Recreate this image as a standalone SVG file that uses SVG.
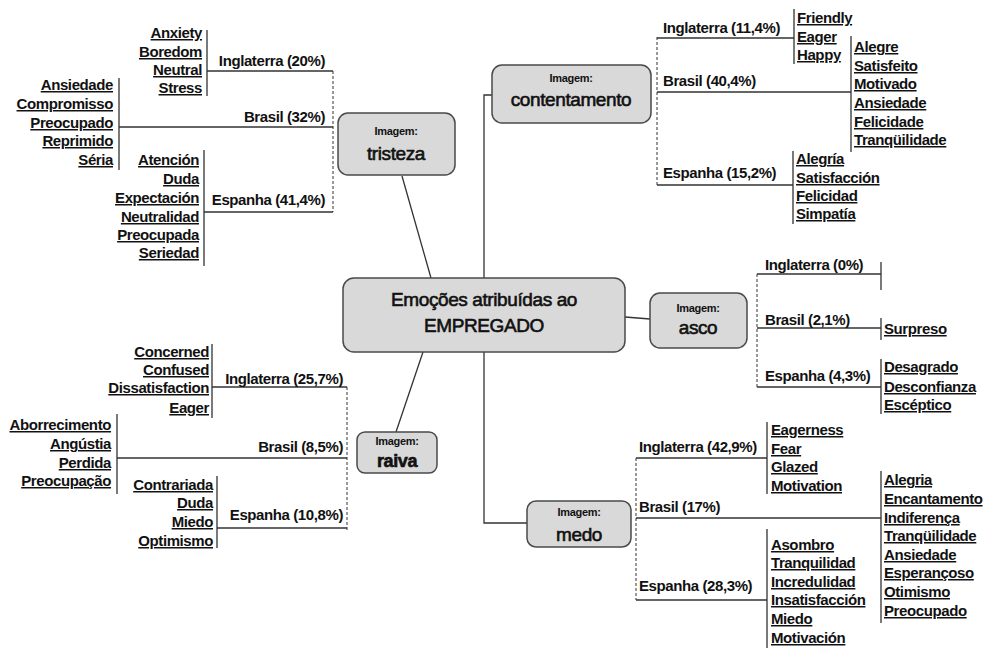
<svg xmlns="http://www.w3.org/2000/svg" width="992" height="649" viewBox="0 0 992 649">
<style>
text{font-family:"Liberation Sans",Arial,sans-serif;fill:#111}
.it{font-size:15px;font-weight:bold;letter-spacing:-0.4px;text-decoration:underline}
.lb{font-size:15px;font-weight:bold;letter-spacing:-0.4px}
.r{text-anchor:end}
.m{text-anchor:middle}
.ln{stroke:#333;stroke-width:1.3;fill:none}
.ds{stroke:#333;stroke-width:1;fill:none;stroke-dasharray:3 2}
.nd rect{fill:#d9d9d9;stroke:#4a4a4a;stroke-width:1.5}
.im{font-size:11px;font-weight:bold;text-anchor:middle;letter-spacing:-0.3px}
.nm{font-size:19px;text-anchor:middle;letter-spacing:-0.4px;stroke:#111;stroke-width:0.6}
</style>
<rect width="992" height="649" fill="#fff"/>
<g id="connectors">
<path class="ln" d="M484,278 V95 H492"/>
<path class="ln" d="M484,352 V523 H527"/>
<path class="ln" d="M431,278 L402,176"/>
<path class="ln" d="M423,352 L396,432"/>
<path class="ln" d="M625,317 L650,319"/>
<path class="ds" d="M333,71 V212"/>
<path class="ln" d="M207,71 H333 M119,127 H333 M204,212 H333"/>
<path class="ln" d="M207,30 V96 M119,78 V170 M204,150 V266"/>
<path class="ds" d="M657,37 V185"/>
<path class="ln" d="M657,38 H794 M657,92 H851 M657,185 H793"/>
<path class="ln" d="M794,9 V64 M851,36 V152 M793,151 V224"/>
<path class="ds" d="M757,274 V387"/>
<path class="ln" d="M757,274 H881 M757,328 H881 M757,387 H881"/>
<path class="ln" d="M881,262 V290 M881,318 V340 M881,359 V414"/>
<path class="ds" d="M347,387 V530"/>
<path class="ln" d="M212,387 H347 M117,458 H347 M217,528 H347"/>
<path class="ln" d="M212,344 V418 M117,414 V494 M217,476 V548"/>
<path class="ds" d="M636,458 V600"/>
<path class="ln" d="M636,458 H767 M636,518 H881 M636,600 H767"/>
<path class="ln" d="M767,422 V494 M881,471 V623 M767,529 V648"/>
</g>
<g id="center" class="nd">
<rect x="343" y="278" width="282" height="74" rx="11"/>
<text class="nm" x="484" y="306">Emoções atribuídas ao</text>
<text class="nm" x="484" y="332">EMPREGADO</text>
</g>
<g id="tristeza" class="nd">
<rect x="338" y="113" width="117" height="62" rx="10"/>
<text class="im" x="396" y="135">Imagem:</text>
<text class="nm" x="396" y="160">tristeza</text>
</g>
<g id="contentamento" class="nd">
<rect x="492" y="65" width="159" height="58" rx="10"/>
<text class="im" x="571" y="82">Imagem:</text>
<text class="nm" x="571" y="106">contentamento</text>
</g>
<g id="asco" class="nd">
<rect x="650" y="293" width="97" height="55" rx="10"/>
<text class="im" x="698" y="312">Imagem:</text>
<text class="nm" x="698" y="334">asco</text>
</g>
<g id="raiva" class="nd">
<rect x="357" y="432" width="80" height="41" rx="8"/>
<text class="im" x="397" y="445">Imagem:</text>
<text class="nm" x="397" y="467" style="font-weight:bold;font-size:18px">raiva</text>
</g>
<g id="medo" class="nd">
<rect x="527" y="501" width="104" height="46" rx="9"/>
<text class="im" x="579" y="516">Imagem:</text>
<text class="nm" x="579" y="541">medo</text>
</g>
<g id="tristeza-items">
<text class="lb r" x="325" y="66">Inglaterra (20%)</text>
<text class="lb r" x="325" y="122">Brasil (32%)</text>
<text class="lb r" x="325" y="205">Espanha (41,4%)</text>
<text class="it r" x="202" y="38">Anxiety</text>
<text class="it r" x="202" y="57">Boredom</text>
<text class="it r" x="202" y="75">Neutral</text>
<text class="it r" x="202" y="93">Stress</text>
<text class="it r" x="113" y="90">Ansiedade</text>
<text class="it r" x="113" y="109">Compromisso</text>
<text class="it r" x="113" y="128">Preocupado</text>
<text class="it r" x="113" y="146">Reprimido</text>
<text class="it r" x="113" y="165">Séria</text>
<text class="it r" x="199" y="165">Atención</text>
<text class="it r" x="199" y="184">Duda</text>
<text class="it r" x="199" y="203">Expectación</text>
<text class="it r" x="199" y="222">Neutralidad</text>
<text class="it r" x="199" y="240">Preocupada</text>
<text class="it r" x="199" y="258">Seriedad</text>
</g>
<g id="contentamento-items">
<text class="lb" x="663" y="33">Inglaterra (11,4%)</text>
<text class="lb" x="663" y="86">Brasil (40,4%)</text>
<text class="lb" x="663" y="178">Espanha (15,2%)</text>
<text class="it" x="797" y="23">Friendly</text>
<text class="it" x="797" y="42">Eager</text>
<text class="it" x="797" y="60">Happy</text>
<text class="it" x="854" y="52">Alegre</text>
<text class="it" x="854" y="71">Satisfeito</text>
<text class="it" x="854" y="89">Motivado</text>
<text class="it" x="854" y="108">Ansiedade</text>
<text class="it" x="854" y="127">Felicidade</text>
<text class="it" x="854" y="145">Tranqüilidade</text>
<text class="it" x="796" y="164">Alegría</text>
<text class="it" x="796" y="183">Satisfacción</text>
<text class="it" x="796" y="201">Felicidad</text>
<text class="it" x="796" y="219">Simpatía</text>
</g>
<g id="asco-items">
<text class="lb" x="765" y="270">Inglaterra (0%)</text>
<text class="lb" x="765" y="325">Brasil (2,1%)</text>
<text class="lb" x="765" y="381">Espanha (4,3%)</text>
<text class="it" x="884" y="334">Surpreso</text>
<text class="it" x="884" y="372">Desagrado</text>
<text class="it" x="884" y="392">Desconfianza</text>
<text class="it" x="884" y="410">Escéptico</text>
</g>
<g id="raiva-items">
<text class="lb r" x="343" y="384">Inglaterra (25,7%)</text>
<text class="lb r" x="343" y="452">Brasil (8,5%)</text>
<text class="lb r" x="343" y="520">Espanha (10,8%)</text>
<text class="it r" x="209" y="357">Concerned</text>
<text class="it r" x="209" y="375">Confused</text>
<text class="it r" x="209" y="393">Dissatisfaction</text>
<text class="it r" x="209" y="413">Eager</text>
<text class="it r" x="111" y="430">Aborrecimento</text>
<text class="it r" x="111" y="449">Angústia</text>
<text class="it r" x="111" y="468">Perdida</text>
<text class="it r" x="111" y="486">Preocupação</text>
<text class="it r" x="213" y="490">Contrariada</text>
<text class="it r" x="213" y="508">Duda</text>
<text class="it r" x="213" y="527">Miedo</text>
<text class="it r" x="213" y="546">Optimismo</text>
</g>
<g id="medo-items">
<text class="lb" x="639" y="452">Inglaterra (42,9%)</text>
<text class="lb" x="639" y="512">Brasil (17%)</text>
<text class="lb" x="639" y="591">Espanha (28,3%)</text>
<text class="it" x="771" y="435">Eagerness</text>
<text class="it" x="771" y="454">Fear</text>
<text class="it" x="771" y="472">Glazed</text>
<text class="it" x="771" y="491">Motivation</text>
<text class="it" x="884" y="485">Alegria</text>
<text class="it" x="884" y="504">Encantamento</text>
<text class="it" x="884" y="523">Indiferença</text>
<text class="it" x="884" y="541">Tranqüilidade</text>
<text class="it" x="884" y="560">Ansiedade</text>
<text class="it" x="884" y="578">Esperançoso</text>
<text class="it" x="884" y="597">Otimismo</text>
<text class="it" x="884" y="616">Preocupado</text>
<text class="it" x="771" y="550">Asombro</text>
<text class="it" x="771" y="568">Tranquilidad</text>
<text class="it" x="771" y="587">Incredulidad</text>
<text class="it" x="771" y="605">Insatisfacción</text>
<text class="it" x="771" y="624">Miedo</text>
<text class="it" x="771" y="643">Motivación</text>
</g>
</svg>
